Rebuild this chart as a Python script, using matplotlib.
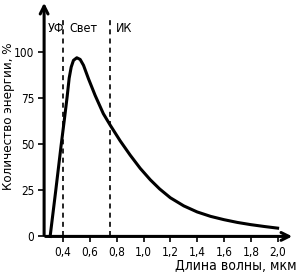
import matplotlib
matplotlib.use('Agg')
import matplotlib.pyplot as plt

plt.rcParams['font.family'] = ['DejaVu Sans']
plt.rcParams['font.stretch'] = 'condensed'

# wavelength (um) and energy (%)
wavelength = [0.303, 0.345, 0.385, 0.41, 0.43, 0.445, 0.46, 0.477, 0.502, 0.527,
              0.552, 0.589, 0.639, 0.70, 0.751, 0.825, 0.90, 0.975, 1.05, 1.12,
              1.20, 1.30, 1.40, 1.50, 1.60, 1.70, 1.80, 1.90, 2.00]
energy = [0, 25, 49.5, 64, 76, 86, 92, 95.7, 97.1, 96.2,
          93, 85.7, 76.6, 66.7, 60.5, 52, 44.2, 37, 30.8, 25.8,
          21, 16.6, 13.3, 10.9, 9.1, 7.6, 6.4, 5.4, 4.5]

borders = [0.4, 0.75]
region_names = ['УФ', 'Свет', 'ИК']
region_x = [0.285, 0.445, 0.79]

xticks = [0.4, 0.6, 0.8, 1.0, 1.2, 1.4, 1.6, 1.8, 2.0]
yticks = [0, 25, 50, 75, 100]

fig = plt.figure(figsize=(2.98, 2.73), dpi=100)
ax = fig.add_axes([0.148, 0.134, 0.842, 0.866])
xmin, xmax, ymax = 0.258, 2.13, 128.5
ax.set_xlim(xmin, xmax)
ax.set_ylim(0, ymax)

ax.plot(wavelength, energy, color='black', lw=2.2, solid_joinstyle='round', clip_on=False)
for b in borders:
    ax.plot([b, b], [0, 118], color='black', lw=1.2, ls=(0, (3, 2.5)))
for name, xp in zip(region_names, region_x):
    ax.text(xp, 113, name, fontsize=9, ha='left', va='center')

for s in ax.spines.values():
    s.set_visible(False)

# axes with arrows
ax.annotate('', xy=(xmax, 0), xytext=(xmin - 0.01, 0),
            arrowprops=dict(arrowstyle='->', lw=2.2, color='black', mutation_scale=14),
            annotation_clip=False)
ax.annotate('', xy=(xmin, ymax), xytext=(xmin, -0.8),
            arrowprops=dict(arrowstyle='->', lw=2.2, color='black', mutation_scale=14),
            annotation_clip=False)

ax.set_xticks(xticks)
ax.set_xticklabels([('%.1f' % t).replace('.', ',') for t in xticks])
ax.set_yticks(yticks)
ax.tick_params(axis='both', length=4, width=1.2, labelsize=8.5, pad=3)

fig.text(0.995, 0.026, 'Длина волны, мкм', fontsize=10, ha='right', va='center')
fig.text(0.03, 0.575, 'Количество энергии, %', fontsize=9.5, rotation=90,
         ha='center', va='center')

fig.savefig('out.png', dpi=100)
